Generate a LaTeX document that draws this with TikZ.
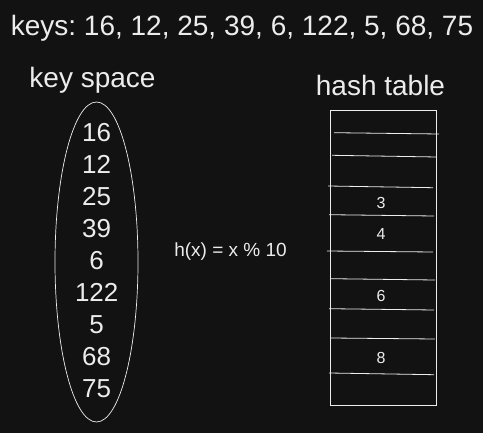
\documentclass[tikz,border=0pt]{standalone}
\usepackage{fontspec}
\usepackage{tikz}
\usetikzlibrary{shapes.geometric}
\setmainfont{Liberation Sans}
\frenchspacing
\definecolor{boardbg}{RGB}{18,18,18}
\definecolor{chalk}{RGB}{236,236,236}

\begin{document}
\begin{tikzpicture}[x=1pt, y=-1pt,
    every node/.style = {text=chalk, inner sep=0pt},
    big/.style = {font=\fontsize{28}{32}\selectfont, anchor=base},
    key/.style = {font=\fontsize{26}{30}\selectfont, anchor=base},
    slot/.style = {font=\fontsize{16}{19}\selectfont, anchor=base},
    rule/.style = {draw=chalk, line width=0.8pt}]
    \fill[boardbg] (0,0) rectangle (483,433);
    \useasboundingbox (0,0) rectangle (483,433);
    \node[big] (title) at (242,36) {keys: 16, 12, 25, 39, 6, 122, 5, 68, 75};
    \node[big] (keyspace) at (92.5,88) {key space};
    \node[big] (hashtable) at (380.5,96) {hash table};
    % key space
    \node[ellipse, draw=chalk, line width=0.7pt, minimum width=83pt, minimum height=320pt]
      (space) at (96.5,262) {};
    \foreach \k [count=\i from 0] in {16,12,25,39,6,122,5,68,75}
      \node[key] (k\i) at (96.7,142+31.9*\i) {\k};
    \node[font=\fontsize{19}{22}\selectfont, anchor=base] (hash) at (230.5,257) {h(x) = x \% 10};
    % hash table
    \node[draw=chalk, line width=0.8pt, minimum width=106pt, minimum height=295pt]
      (table) at (383,257.5) {};
    \foreach \xa/\ya/\xb/\yb in {334/132.7/439/134, 332/155.3/437/157, 328/186/433/187.7,
        329/214.7/434/216, 327/251/433/252, 331/278.7/435/280,
        329/308.7/434/310, 331/338/435/339, 329/373/434/374.7}
      \draw[rule] (\xa,\ya) -- (\xb,\yb);
    \foreach \v/\y in {3/209, 4/239.3, 6/301.7, 8/364}
      \node[slot] (s\v) at (381,\y) {\v};
\end{tikzpicture}
\end{document}
